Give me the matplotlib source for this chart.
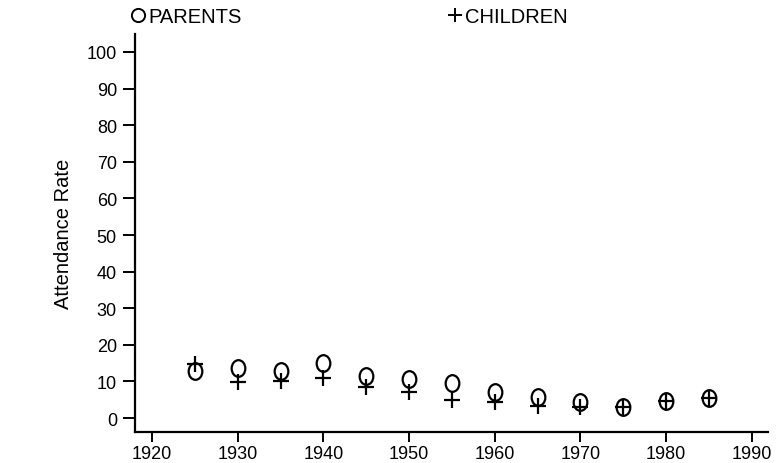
import matplotlib
matplotlib.use("Agg")
import matplotlib.pyplot as plt
from matplotlib.path import Path
from matplotlib.transforms import Affine2D

plt.rcParams['font.family'] = ['Liberation Sans', 'DejaVu Sans']

# -- Data --
years = [1925, 1930, 1935, 1940, 1945, 1950, 1955, 1960, 1965, 1970, 1975, 1980, 1985]
parents = [12.9, 13.6, 12.8, 15.0, 11.4, 10.8, 9.7, 7.0, 5.7, 4.5, 3.1, 4.7, 5.4]
children = [14.8, 9.9, 10.2, 11.0, 8.4, 7.0, 4.9, 4.3, 3.4, 2.9, 3.1, 4.8, 5.5]
xticks = list(range(1920, 2000, 10))
yticks = list(range(0, 110, 10))

# slightly tall ellipse, like the reference markers
ellipse = Path.unit_circle().transformed(Affine2D().scale(0.82, 1.0))

fig = plt.figure(figsize=(7.82, 4.64), dpi=100)
ax = fig.add_axes([0.1726, 0.0668, 0.8094, 0.8578])

ax.plot(years, parents, linestyle='none', marker=ellipse, markersize=12,
        markerfacecolor='none', markeredgecolor='black', markeredgewidth=1.6)
ax.plot(years, children, linestyle='none', marker='+', markersize=11,
        color='black', markeredgewidth=1.6)

ax.set_xlim(1918.0, 1991.9)
ax.set_ylim(-3.8, 104.9)
ax.set_xticks(xticks)
ax.set_yticks(yticks)

ax.spines['top'].set_visible(False)
ax.spines['right'].set_visible(False)
ax.spines['left'].set_linewidth(1.6)
ax.spines['bottom'].set_linewidth(1.6)
ax.tick_params(axis='y', direction='out', length=9, width=1.4, labelsize=13, pad=4)
ax.tick_params(axis='x', direction='out', length=7, width=1.4, labelsize=13, pad=2)

ax.set_ylabel('Attendance Rate', fontsize=14.5)
ax.yaxis.set_label_coords(-0.098, 0.5)

# legend across the top, round marker like the reference key
h_par, = ax.plot([], [], linestyle='none', marker='o', markersize=9.5,
                 markerfacecolor='none', markeredgecolor='black',
                 markeredgewidth=1.4, label='PARENTS')
h_chi, = ax.plot([], [], linestyle='none', marker='+', markersize=10,
                 color='black', markeredgewidth=1.4, label='CHILDREN')
fig.legend(handles=[h_par, h_chi], loc='upper left',
           bbox_to_anchor=(0.156, 1.0), ncol=2, frameon=False, fontsize=14.5,
           handlelength=0.8, handletextpad=0.1, columnspacing=10.2,
           borderaxespad=0.0)

fig.savefig('out.png', dpi=100)
